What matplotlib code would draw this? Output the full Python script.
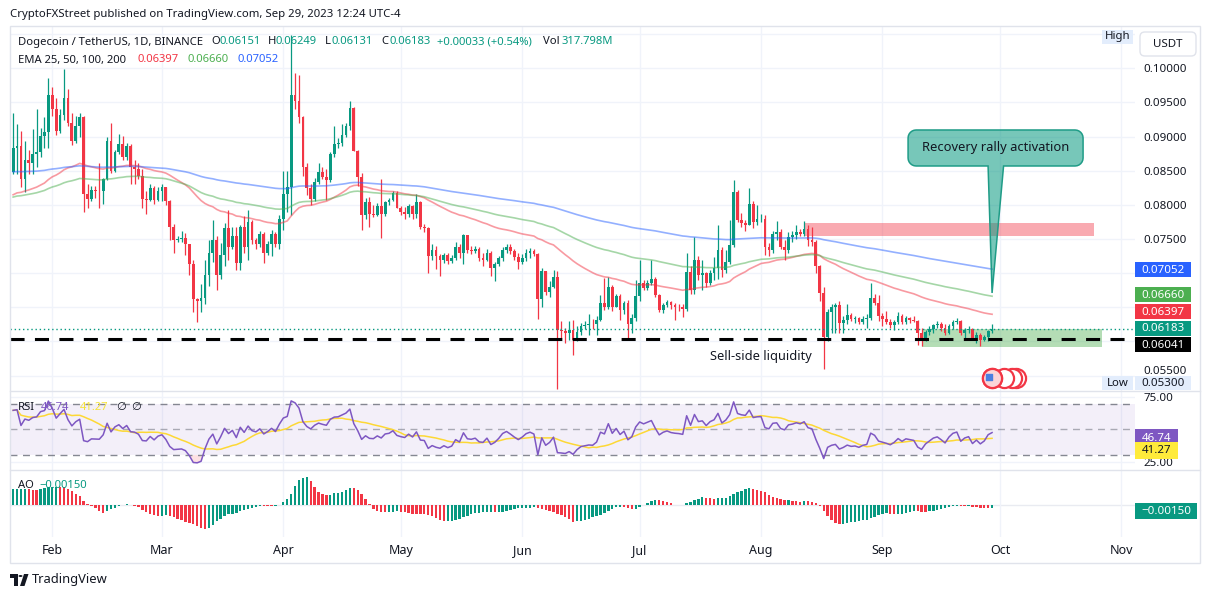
import numpy as np
import pandas as pd
import matplotlib
matplotlib.use("Agg")
import matplotlib.pyplot as plt
import matplotlib.dates as mdates
from matplotlib.patches import Rectangle, Polygon, FancyBboxPatch, Circle
from matplotlib.lines import Line2D
from matplotlib.ticker import FormatStrFormatter, FuncFormatter

plt.rcParams['font.family'] = ['Noto Sans', 'DejaVu Sans']

W, H = 1211, 598
TXT = '#131722'
UP, DOWN = '#089981', '#f23645'
GRID = '#f0f3fa'
BORDER = '#e0e3eb'

# ---- daily DOGE/USDT candles (Jan 22 .. Sep 29 2023) ----
dates = pd.date_range('2023-01-22', '2023-09-29', freq='D')
first_open = 0.0848
close = [
    .0883, .0886, .0838, .0866, .0862, .0874, .0877, .0901, .0906, .0961,
    .0940, .0908, .0932, .0957, .0920, .0894, .0915, .0928, .0816, .0809,
    .0822, .0821, .0820, .0838, .0894, .0850, .0877, .0889, .0870, .0886,
    .0855, .0853, .0843, .0809, .0807, .0824, .0807, .0821, .0826, .0805,
    .0768, .0749, .0750, .0751, .0742, .0713, .0662, .0659, .0663, .0698,
    .0730, .0749, .0698, .0727, .0766, .0739, .0754, .0715, .0768, .0739,
    .0775, .0749, .0742, .0758, .0730, .0742, .0758, .0742, .0780, .0816,
    .0826, .0961, .0952, .0928, .0855, .0824, .0808, .0833, .0848, .0841,
    .0836, .0874, .0889, .0891, .0903, .0915, .0942, .0879, .0841, .0785,
    .0804, .0787, .0785, .0798, .0786, .0804, .0807, .0818, .0796, .0790,
    .0786, .0798, .0786, .0804, .0768, .0766, .0725, .0734, .0725, .0720,
    .0727, .0718, .0722, .0739, .0730, .0756, .0734, .0732, .0735, .0722,
    .0720, .0730, .0708, .0713, .0722, .0734, .0739, .0732, .0724, .0717,
    .0722, .0729, .0732, .0728, .0662, .0703, .0672, .0680, .0695, .0617,
    .0615, .0612, .0617, .0602, .0614, .0622, .0624, .0626, .0625, .0632,
    .0656, .0651, .0680, .0651, .0666, .0646, .0656, .0625, .0634, .0666,
    .0685, .0679, .0685, .0691, .0668, .0646, .0654, .0658, .0653, .0651,
    .0650, .0648, .0702, .0676, .0719, .0697, .0700, .0685, .0700, .0707,
    .0734, .0705, .0717, .0741, .0819, .0778, .0773, .0771, .0802, .0775,
    .0779, .0780, .0739, .0734, .0758, .0760, .0739, .0734, .0753, .0756,
    .0761, .0758, .0765, .0748, .0745, .0710, .0671, .0607, .0643, .0650,
    .0653, .0627, .0632, .0639, .0633, .0634, .0628, .0633, .0635, .0664,
    .0657, .0637, .0633, .0629, .0624, .0629, .0637, .0629, .0634, .0632,
    .0630, .0612, .0605, .0614, .0619, .0624, .0626, .0620, .0613, .0622,
    .0628, .0630, .0612, .0617, .0619, .0605, .0610, .0602, .0606, .06151,
    .06183]
high = [
    .0935, .0918, .0908, .0894, .0880, .0911, .0940, .0913, .0928, .0986,
    .0973, .0957, .0940, .0999, .0969, .0935, .0930, .0935, .0930, .0831,
    .0828, .0828, .0862, .0840, .0899, .0920, .0880, .0904, .0901, .0891,
    .0889, .0865, .0862, .0853, .0821, .0831, .0828, .0826, .0830, .0826,
    .0807, .0772, .0755, .0762, .0759, .0742, .0720, .0664, .0684, .0720,
    .0749, .0778, .0754, .0744, .0773, .0792, .0768, .0768, .0770, .0783,
    .0793, .0778, .0752, .0762, .0760, .0747, .0763, .0760, .0785, .0850,
    .0850, .1049, .0993, .0990, .0930, .0862, .0830, .0840, .0862, .0855,
    .0853, .0877, .0915, .0898, .0918, .0920, .0952, .0944, .0880, .0846,
    .0810, .0812, .0800, .0803, .0838, .0806, .0810, .0821, .0820, .0798,
    .0797, .0801, .0800, .0816, .0806, .0772, .0768, .0742, .0740, .0728,
    .0730, .0729, .0726, .0745, .0742, .0758, .0755, .0740, .0740, .0738,
    .0730, .0735, .0733, .0716, .0725, .0739, .0742, .0742, .0735, .0730,
    .0728, .0735, .0737, .0735, .0730, .0708, .0702, .0688, .0705, .0703,
    .0630, .0620, .0630, .0632, .0622, .0627, .0630, .0640, .0633, .0637,
    .0668, .0693, .0695, .0683, .0670, .0670, .0660, .0661, .0640, .0690,
    .0720, .0690, .0690, .0720, .0695, .0670, .0657, .0661, .0660, .0656,
    .0655, .0655, .0730, .0710, .0753, .0725, .0720, .0702, .0705, .0724,
    .0771, .0738, .0734, .0778, .0836, .0822, .0788, .0778, .0825, .0805,
    .0800, .0786, .0785, .0744, .0762, .0776, .0765, .0748, .0760, .0762,
    .0770, .0765, .0776, .0770, .0768, .0748, .0712, .0680, .0648, .0655,
    .0657, .0660, .0637, .0655, .0642, .0638, .0636, .0638, .0640, .0685,
    .0670, .0668, .0642, .0645, .0633, .0632, .0643, .0640, .0637, .0636,
    .0637, .0632, .0620, .0617, .0622, .0626, .0630, .0628, .0625, .0625,
    .0632, .0634, .0632, .0620, .0622, .0620, .0614, .0612, .0610, .0617,
    .06249]
low = [
    .0845, .0845, .0826, .0819, .0845, .0845, .0855, .0870, .0884, .0884,
    .0930, .0903, .0905, .0925, .0915, .0887, .0890, .0900, .0790, .0795,
    .0805, .0810, .0795, .0802, .0836, .0846, .0848, .0874, .0865, .0866,
    .0831, .0830, .0838, .0795, .0787, .0805, .0802, .0805, .0806, .0800,
    .0749, .0730, .0745, .0745, .0727, .0698, .0643, .0628, .0643, .0655,
    .0681, .0717, .0676, .0691, .0710, .0720, .0735, .0705, .0705, .0730,
    .0720, .0742, .0735, .0738, .0715, .0727, .0725, .0738, .0735, .0763,
    .0790, .0785, .0940, .0920, .0843, .0815, .0800, .0806, .0830, .0838,
    .0807, .0833, .0870, .0884, .0886, .0900, .0910, .0879, .0828, .0763,
    .0780, .0768, .0782, .0783, .0751, .0784, .0800, .0805, .0795, .0785,
    .0780, .0782, .0780, .0781, .0765, .0760, .0700, .0720, .0706, .0696,
    .0715, .0714, .0715, .0720, .0722, .0713, .0730, .0728, .0730, .0718,
    .0710, .0718, .0696, .0688, .0710, .0718, .0730, .0728, .0720, .0706,
    .0714, .0718, .0722, .0725, .0633, .0650, .0668, .0665, .0678, .0530,
    .0605, .0598, .0602, .0580, .0600, .0610, .0618, .0610, .0619, .0610,
    .0630, .0646, .0648, .0645, .0660, .0632, .0640, .0602, .0613, .0630,
    .0660, .0675, .0675, .0682, .0665, .0643, .0641, .0650, .0648, .0632,
    .0645, .0636, .0645, .0670, .0670, .0690, .0676, .0680, .0682, .0690,
    .0692, .0695, .0700, .0714, .0738, .0775, .0768, .0762, .0770, .0766,
    .0770, .0775, .0727, .0725, .0730, .0748, .0735, .0719, .0730, .0745,
    .0750, .0754, .0755, .0740, .0740, .0700, .0660, .0559, .0600, .0613,
    .0612, .0612, .0612, .0625, .0630, .0627, .0625, .0626, .0620, .0632,
    .0653, .0630, .0622, .0625, .0620, .0617, .0625, .0625, .0625, .0627,
    .0628, .0595, .0593, .0600, .0610, .0613, .0620, .0616, .0610, .0611,
    .0619, .0625, .0610, .0604, .0612, .0603, .0598, .0594, .0600, .0601,
    .06131]

# visible EMA plots (the 25 line is switched off) and their levels at the left edge
ema_periods = [50, 100, 200]
ema_seeds = [0.0812, 0.0810, 0.0848]
ema_colors = ['#f23645', '#4caf50', '#2962ff']
rsi_seed_gain, rsi_seed_loss = 0.0011, 0.0006
# AO bars before 34 candles are available
ao_head = [
    .0084, .0084, .0086, .0086, .0084, .0083, .0082, .0087, .0091, .0095,
    .0099, .0099, .0097, .0096, .0084, .0075, .0062, .0048, .0022, .0004,
    -.0005, -.0014, -.0032, -.0042, -.0032, -.0023, -.0014, -.0004, .0001, .0003,
    -.0001, -.0005, -.0010]

# drawn levels / annotations
liquidity = 0.06041
last_price = 0.06183
red_zone = ('2023-08-12', '2023-10-25', 0.0754, 0.0773)
green_zone = ('2023-09-11', '2023-10-27', 0.05916, 0.06179)
callout_level = 0.0671
event_dates = ['2023-10-05', '2023-10-04', '2023-10-02', '2023-09-29']
event_level = 0.05467
sellside = ('2023-08-01', 0.05787)

ema_tags = ['0.07052', '0.06660', '0.06397']
rsi_tags = [46.74, 41.27]
ao_tag = -0.00150

# ---- indicators ----
c = np.array(close)
o = np.r_[first_open, c[:-1]]
h = np.maximum(np.array(high), np.maximum(o, c))
l = np.minimum(np.array(low), np.minimum(o, c))
x = mdates.date2num(dates)


def ema(vals, n, seed):
    a = 2.0 / (n + 1)
    e = seed
    out = []
    for v in vals:
        e += a * (v - e)
        out.append(e)
    return np.array(out)


g, ls = rsi_seed_gain, rsi_seed_loss
rsi = []
for i in range(len(c)):
    if i > 0:
        d = c[i] - c[i - 1]
        g = (g * 13 + max(d, 0)) / 14
        ls = (ls * 13 + max(-d, 0)) / 14
    rsi.append(100 - 100 / (1 + g / ls))
rsi = np.array(rsi)
rsi_ma = pd.Series(rsi).rolling(14, min_periods=1).mean().values

med = pd.Series((h + l) / 2)
ao = (med.rolling(5).mean() - med.rolling(34).mean()).values
ao[:len(ao_head)] = ao_head

# ---- figure ----
fig = plt.figure(figsize=(W / 100, H / 100), dpi=100)
fig.patch.set_facecolor('white')


def panel(top, bottom):
    return [10 / W, 1 - bottom / H, 1125 / W, (bottom - top) / H]


ax = fig.add_axes(panel(26, 391))
axr = fig.add_axes(panel(391, 470), sharex=ax)
axa = fig.add_axes(panel(470, 537), sharex=ax)

feb1 = mdates.date2num(pd.Timestamp('2023-02-01'))
ax.set_xlim(feb1 - 10.8, feb1 + 276.5)
ax.set_ylim(0.05275, 0.10619)
axr.set_ylim(18.45, 79.7)
axa.set_ylim(-0.0173, 0.01892)

for a in (ax, axr, axa):
    for s in a.spines.values():
        s.set_visible(False)
    a.tick_params(length=0, labelsize=8.3, labelcolor=TXT)
    a.xaxis.set_major_locator(mdates.MonthLocator())
    a.xaxis.set_major_formatter(mdates.DateFormatter('%b'))
    a.grid(True, axis='x', color=GRID, lw=1, zorder=0)
    a.set_axisbelow(True)
ax.tick_params(labelbottom=False)
axr.tick_params(labelbottom=False)
axa.tick_params(axis='x', labelsize=9, pad=5)

# price scale on the right (labels under the value tags are left out,
# the 0.055 one is nudged up above the Low tag)
covered = (0.055, 0.060, 0.065, 0.070)
ax.yaxis.tick_right()
ax.set_yticks(np.arange(0.055, 0.1001, 0.005))
ax.yaxis.set_major_formatter(FuncFormatter(
    lambda v, p: '' if any(abs(v - cv) < 1e-6 for cv in covered) else '%.5f' % v))
ax.tick_params(axis='y', pad=6)
ax.grid(True, axis='y', color=GRID, lw=1, zorder=0)
ax.axhline(0.105, color=GRID, lw=1, zorder=0)
ax.annotate('%.5f' % 0.055, xy=(1, 0.055), xycoords=('axes fraction', 'data'),
            xytext=(8, 4.5), textcoords='offset pixels', ha='left', va='center',
            fontsize=8.3, color=TXT, annotation_clip=False)

axr.yaxis.tick_right()
axr.set_yticks([25, 75])
axr.yaxis.set_major_formatter(FormatStrFormatter('%.2f'))
axr.tick_params(axis='y', pad=6)
axr.axhline(25, color=GRID, lw=1, zorder=0)
axr.axhline(75, color=GRID, lw=1, zorder=0)

axa.set_yticks([])
axa.axhline(0, color='#e9ebf1', lw=1, zorder=0)

# ---- price panel ----
z = red_zone
ax.add_patch(Rectangle((mdates.datestr2num(z[0]), z[2]),
                       mdates.datestr2num(z[1]) - mdates.datestr2num(z[0]), z[3] - z[2],
                       fc=DOWN, alpha=0.42, ec='none', zorder=2))
z = green_zone
ax.add_patch(Rectangle((mdates.datestr2num(z[0]), z[2]),
                       mdates.datestr2num(z[1]) - mdates.datestr2num(z[0]), z[3] - z[2],
                       fc='#4caf50', alpha=0.42, ec='none', zorder=2))

col = np.where(c >= o, UP, DOWN)
ax.vlines(x, l, h, colors=col, lw=0.9, zorder=3)
ax.bar(x, np.maximum(np.abs(c - o), 0.00006), bottom=np.minimum(o, c), width=0.7,
       color=col, linewidth=0, zorder=4)

for n, seed, colr in zip(ema_periods, ema_seeds, ema_colors):
    ax.plot(x, ema(c, n, seed), color=colr, alpha=0.5, lw=1.2, zorder=5)

ax.axhline(liquidity, color='black', lw=2.2, ls=(0, (4.6, 3.4)), zorder=6)
ax.axhline(last_price, color=UP, lw=1, ls=(0, (1, 2)), zorder=6)

ax.text(mdates.datestr2num(sellside[0]), sellside[1], 'Sell-side liquidity',
        ha='center', va='center', fontsize=9.2, color=TXT, zorder=7)

ex = mdates.datestr2num(event_dates)
ax.scatter(ex, [event_level] * len(ex), s=190, facecolor='white', edgecolor=DOWN,
           lw=1.6, zorder=7, clip_on=False)
ax.scatter(ex[-1:], [event_level], s=190, facecolor='#fbd5d8', edgecolor=DOWN,
           lw=1.6, zorder=8)
ax.scatter(ex[-1:] - 0.8, [event_level + 0.0002], s=14, marker='s', color='#4a7fe0',
           zorder=9)

# callout box with pointer, built in pixel space
fig.canvas.draw()
tx, ty = ax.transData.transform((x[-1], callout_level))
left, right, bottom, top, r = tx - 84, tx + 91, ty + 127, ty + 163, 8
pts = [(tx + 11.5, bottom), (right - r, bottom)]
for cx_, cy_, a0 in [(right - r, bottom + r, -90), (right - r, top - r, 0),
                     (left + r, top - r, 90), (left + r, bottom + r, 180)]:
    for t in np.radians(np.linspace(a0, a0 + 90, 7)):
        pts.append((cx_ + r * np.cos(t), cy_ + r * np.sin(t)))
pts += [(tx - 4, bottom), (tx, ty)]
dpts = ax.transData.inverted().transform(pts)
ax.add_patch(Polygon(dpts, closed=True, fc=(0.031, 0.6, 0.506, 0.55), ec='#1f9c87',
                     lw=1.1, zorder=9, clip_on=False))
cxy = ax.transData.inverted().transform(((left + right) / 2, (top + bottom) / 2))
ax.text(cxy[0], cxy[1], 'Recovery rally activation', ha='center', va='center',
        fontsize=9.3, color=TXT, zorder=10)

# ---- RSI panel ----
axr.axhspan(30, 70, color='#7e57c2', alpha=0.09, lw=0, zorder=1)
for lvl in (70, 50, 30):
    axr.axhline(lvl, color='#787b86', lw=1, ls=(0, (5, 4)), zorder=2,
                alpha=0.9 if lvl != 50 else 0.6)
axr.fill_between(x, rsi, 30, where=rsi < 30, interpolate=True, color=DOWN, alpha=0.15, lw=0)
axr.fill_between(x, rsi, 70, where=rsi > 70, interpolate=True, color=UP, alpha=0.15, lw=0)
axr.plot(x, rsi_ma, color='#fdd835', lw=1.1, zorder=3)
axr.plot(x, rsi, color='#7e57c2', lw=1.1, zorder=4)

# ---- AO panel ----
ao_col = [UP] + [UP if ao[i] >= ao[i - 1] else DOWN for i in range(1, len(ao))]
axa.bar(x, ao, width=0.6, color=ao_col, linewidth=0, zorder=3)

# ---- frame ----
fig.add_artist(Rectangle((10 / W, 1 - 563 / H), 1190 / W, 537 / H, fill=False, ec=BORDER,
                         lw=1, transform=fig.transFigure))
for yy in (391, 470):
    fig.add_artist(Line2D([10 / W, 1200 / W], [1 - yy / H] * 2, color=BORDER, lw=1,
                          transform=fig.transFigure))


def tag(axis, value, label, fc, tc='white', dy=0.0, w=56, hgt=15, size=8.3):
    yd = axis.transData.transform((0, value))[1] + dy
    fig.add_artist(Rectangle((1135 / W, (yd - hgt / 2) / H), w / W, hgt / H, fc=fc, ec='none',
                             transform=fig.transFigure, zorder=10))
    fig.text((1135 + w / 2) / W, (yd - 0.5) / H, label, ha='center', va='center',
             color=tc, fontsize=size, zorder=11)


tag(ax, float(ema_tags[2]), ema_tags[2], DOWN, dy=2.8)
tag(ax, float(ema_tags[1]), ema_tags[1], '#4caf50', dy=1.5)
tag(ax, float(ema_tags[0]), ema_tags[0], '#2962ff')
tag(ax, last_price, '%.5f' % last_price, UP, dy=0.7)
tag(ax, liquidity, '%.5f' % liquidity, 'black', dy=-6.2)
tag(ax, 0.0530, '0.05300', '#e3edfc', tc=TXT, dy=6, w=56, hgt=14)
tag(axr, rsi_tags[0], '%.2f' % rsi_tags[0], '#7e57c2', dy=-4, w=43, hgt=16.5)
tag(axr, rsi_tags[1], '%.2f' % rsi_tags[1], '#ffeb3b', tc=TXT, dy=-9.8, w=43, hgt=16.5)
tag(axa, ao_tag, '\u22120.00150', UP, dy=-3, w=62, hgt=16.5)


def fx(px):
    return px / W


def fy(py):
    return 1 - py / H


# High / Low markers and currency box
for label, ytop in (('High', 29.5), ('Low', 376)):
    fig.add_artist(Rectangle((fx(1102), fy(ytop + 14)), 31 / W, 14 / H, fc='#e3edfc',
                             ec='none', transform=fig.transFigure, zorder=10))
    fig.text(fx(1117.5), fy(ytop + 7.5), label, ha='center', va='center', fontsize=8.2,
             color=TXT, zorder=11)
fig.add_artist(FancyBboxPatch((fx(1140), fy(56)), 56 / W, 24 / H,
                              boxstyle='round,pad=0,rounding_size=0.004',
                              mutation_aspect=W / H, fc='white', ec=BORDER, lw=1,
                              transform=fig.transFigure, zorder=10))
fig.text(fx(1168), fy(44.5), 'USDT', ha='center', va='center', fontsize=8.3, color=TXT,
         zorder=11)

# ---- legends / header ----
fig.text(fx(10), fy(15), 'CryptoFXStreet published on TradingView.com, Sep 29, 2023 12:24 UTC-4',
         ha='left', va='center', fontsize=8.2, color=TXT)

row1 = [(18, 'Dogecoin / TetherUS, 1D, BINANCE', TXT), (211, 'O', TXT), (219, '0.06151', UP),
        (268, 'H', TXT), (276, '0.06249', UP), (325, 'L', TXT), (332, '0.06131', UP),
        (381, 'C', TXT), (389, '0.06183', UP), (437, '+0.00033 (+0.54%)', UP),
        (543, 'Vol', TXT), (562, '317.798M', UP)]
for px, s, colr in row1:
    fig.text(fx(px), fy(42), s, ha='left', va='center', fontsize=8.1, color=colr)
row2 = [(18, 'EMA 25, 50, 100, 200', TXT), (137, ema_tags[2], DOWN),
        (188, ema_tags[1], '#4caf50'), (237, ema_tags[0], '#2962ff')]
for px, s, colr in row2:
    fig.text(fx(px), fy(60), s, ha='left', va='center', fontsize=8.1, color=colr)
row3 = [(18, 'RSI', TXT), (41, '%.2f' % rsi_tags[0], '#7e57c2'),
        (80, '%.2f' % rsi_tags[1], '#f5e33b'), (116, '\u2205', TXT), (131, '\u2205', TXT)]
for px, s, colr in row3:
    fig.text(fx(px), fy(407), s, ha='left', va='center', fontsize=8.1, color=colr)
fig.text(fx(18), fy(485), 'AO', ha='left', va='center', fontsize=8.1, color=TXT)
fig.text(fx(39), fy(485), '\u22120.00150', ha='left', va='center', fontsize=8.1, color=UP)

# TradingView footer logo
fig.add_artist(Rectangle((fx(10), fy(578)), 8 / W, 4 / H, fc=TXT, ec='none',
                         transform=fig.transFigure))
fig.add_artist(Rectangle((fx(14), fy(586)), 4 / W, 9 / H, fc=TXT, ec='none',
                         transform=fig.transFigure))
fig.add_artist(Circle((fx(20.5), fy(576)), 2 / W, fc=TXT, ec='none',
                      transform=fig.transFigure))
fig.add_artist(Polygon([(fx(24), fy(574)), (fx(28.5), fy(574)), (fx(24.5), fy(586)),
                        (fx(20), fy(586))], closed=True, fc=TXT, ec='none',
                       transform=fig.transFigure))
fig.text(fx(32), fy(580), 'TradingView', ha='left', va='center', fontsize=9.3,
         fontweight='bold', color=TXT)

fig.savefig('out.png', dpi=100)
